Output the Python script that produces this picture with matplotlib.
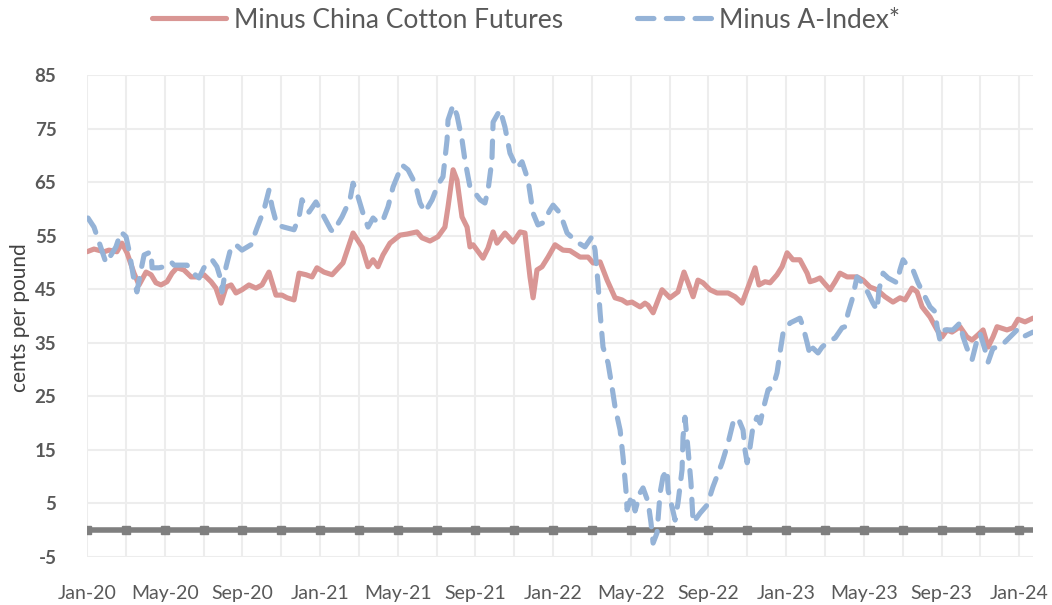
import matplotlib
matplotlib.use("Agg")
import matplotlib.pyplot as plt

# x values are months since Jan 2020
red_t = [0, 0.36, 0.88, 1.13, 1.54, 1.80, 2.06, 2.42, 2.68, 3.04, 3.30, 3.55, 3.81, 4.12, 4.38, 4.63,
         4.99, 5.36, 5.66, 6.02, 6.39, 6.64, 6.90, 7.16, 7.42, 7.67, 7.98, 8.34, 8.70, 9.01, 9.37, 9.73,
         10.04, 10.30, 10.66, 10.92, 11.28, 11.59, 11.84, 12.20, 12.62, 13.18, 13.70, 14.16, 14.47, 14.73,
         14.98, 15.24, 15.60, 16.12, 16.48, 16.99, 17.25, 17.66, 18.07, 18.43, 18.59, 18.85, 19.05, 19.31,
         19.57, 19.72, 19.88, 20.39, 20.65, 20.91, 21.11, 21.52, 21.94, 22.30, 22.55, 22.81, 22.97, 23.17,
         23.43, 23.74, 24.10, 24.51, 24.87, 25.39, 25.80, 26.06, 26.42, 26.78, 27.19, 27.55, 27.81, 28.06,
         28.48, 28.73, 28.89, 29.15, 29.61, 30.02, 30.43, 30.74, 30.95, 31.21, 31.46, 31.72, 32.08, 32.44,
         33.01, 33.37, 33.73, 34.04, 34.40, 34.60, 34.91, 35.17, 35.53, 35.79, 36.05, 36.35, 36.71, 37.08,
         37.23, 37.49, 37.74, 37.90, 38.26, 38.52, 38.77, 39.14, 39.65, 39.96, 40.32, 40.68, 41.09, 41.50,
         41.86, 42.12, 42.48, 42.74, 43.00, 43.41, 43.77, 44.03, 44.28, 44.54, 44.95, 45.31, 45.57, 45.88,
         46.14, 46.40, 46.65, 46.86, 47.37, 47.68, 47.94, 48.30, 48.71]
red_v = [52.0, 52.5, 52.0, 52.3, 52.0, 53.6, 51.8, 48.0, 45.8, 48.2, 47.7, 46.2, 45.8, 46.4, 48.0, 49.0,
         48.6, 47.3, 47.3, 47.7, 46.4, 45.2, 42.4, 45.4, 45.8, 44.3, 44.9, 45.8, 45.2, 45.8, 48.2, 43.9,
         43.9, 43.4, 43.0, 48.0, 47.7, 47.3, 49.0, 48.2, 47.7, 49.9, 55.5, 52.9, 49.2, 50.5,
         49.2, 51.4, 53.6, 55.1, 55.3, 55.7, 54.6, 54.0, 54.8, 56.6, 60.4, 67.3, 65.4, 58.5,
         56.6, 52.9, 53.3, 50.8, 52.7, 55.7, 53.6, 55.5, 53.8, 55.7, 55.5, 47.3, 43.4, 48.6,
         49.2, 51.0, 53.3, 52.3, 52.2, 51.0, 51.0, 49.9, 50.1, 46.7, 43.4, 43.0, 42.4, 42.6,
         41.7, 42.4, 42.0, 40.6, 44.9, 43.4, 44.5, 48.2, 46.2, 43.6, 46.7, 46.2, 44.9, 44.3,
         44.3, 43.6, 42.4, 45.4, 49.0, 45.8, 46.4, 46.2, 47.7, 49.2, 51.8, 50.5, 50.5, 48.0,
         46.4, 46.7, 47.1, 46.4, 44.9, 46.4, 48.0, 47.3, 47.3, 46.7, 45.4, 44.9, 43.6, 42.6,
         43.4, 43.0, 45.2, 44.5, 41.7, 39.8, 37.4, 36.1, 37.4, 37.0, 38.0, 36.1, 35.5, 36.5,
         37.4, 34.2, 36.1, 38.0, 37.4, 37.8, 39.4, 38.9, 39.6]

blue_t = [0.05, 0.36, 0.62, 0.98, 1.24, 1.49, 1.75, 2.01, 2.16, 2.42, 2.57, 2.78, 2.94, 3.30, 3.35, 3.71,
          3.96, 4.33, 4.48, 4.84, 5.15, 5.41, 5.77, 6.02, 6.44, 6.69, 6.90, 6.95, 7.16, 7.42, 7.67, 7.98,
          8.44, 8.75, 9.11, 9.37, 9.53, 9.78, 10.14, 10.66, 10.92, 11.07, 11.43, 11.79, 12.10, 12.56, 12.67,
          13.13, 13.54, 13.70, 13.96, 14.21, 14.47, 14.73, 14.98, 15.24, 15.50, 15.76, 16.22, 16.53, 16.89,
          17.15, 17.40, 17.77, 18.07, 18.33, 18.54, 18.59, 18.85, 19.05, 19.31, 19.46, 19.72, 19.98, 20.24,
          20.49, 20.65, 20.85, 20.91, 21.27, 21.52, 21.78, 22.14, 22.40, 22.71, 22.97, 23.22, 23.48, 23.84,
          24.00, 24.36, 24.72, 25.23, 25.64, 26.00, 26.16, 26.31, 26.42, 26.57, 26.83, 27.03, 27.19, 27.45,
          27.60, 27.75, 27.81, 28.06, 28.22, 28.48, 28.63, 28.89, 29.04, 29.15, 29.35, 29.51, 29.66, 29.87,
          29.92, 30.28, 30.43, 30.64, 30.69, 30.79, 30.95, 31.10, 31.21, 31.57, 31.93, 32.23, 32.70, 33.01,
          33.26, 33.52, 33.78, 33.88, 33.99, 34.14, 34.29, 34.50, 34.66, 34.81, 35.07, 35.32, 35.53, 35.68,
          35.84, 36.20, 36.71, 36.87, 37.08, 37.23, 37.38, 37.64, 37.85, 38.16, 38.52, 38.88, 39.03, 39.19,
          39.39, 39.65, 39.91, 40.22, 40.47, 40.68, 40.78, 40.99, 41.25, 41.71, 41.86, 42.02, 42.28, 42.53,
          42.79, 43.05, 43.41, 43.67, 43.77, 43.92, 44.18, 44.59, 44.95, 45.11, 45.31, 45.57, 45.83, 45.98,
          46.24, 46.40, 46.65, 47.01, 47.53, 47.89, 48.20, 48.71]
blue_v = [58.3, 56.6, 53.8, 49.9, 51.4, 52.9, 55.7, 54.8, 52.3, 46.7, 44.5, 48.6, 51.4, 52.0, 49.0, 49.0,
          49.2, 50.1, 49.5, 49.5, 49.5, 48.2, 47.1, 49.0, 50.5, 49.2, 46.7, 44.5, 49.2, 52.9, 53.3, 52.3,
          53.3, 56.4, 59.8, 63.5, 60.4, 57.0, 56.6, 56.1, 58.5, 61.7, 59.4, 61.3, 59.2, 56.1, 55.7,
          58.5, 61.7, 64.8, 62.2, 59.2, 56.6, 58.3, 57.4, 57.9, 60.4, 64.1, 68.2, 67.3, 64.8,
          61.1, 59.4, 61.7, 64.5, 66.0, 72.9, 76.6, 79.4, 77.5, 72.9, 69.1, 64.1, 63.0, 61.7,
          61.1, 63.5, 69.1, 76.2, 78.5, 75.3, 70.4, 67.6, 68.8, 65.4, 59.2, 57.0, 57.4, 59.8,
          60.7, 59.2, 55.5, 53.8, 52.9, 54.8, 52.3, 46.2, 40.6, 34.2, 31.2, 26.8, 23.0, 18.7,
          13.7, 7.5, 3.8, 6.6, 3.6, 7.0, 7.9, 5.3, 1.4, -2.4, -0.5, 7.0, 10.0, 11.3,
          7.5, 1.9, 5.1, 11.3, 17.4, 21.1, 15.0, 8.8, 1.4, 3.2, 4.7, 8.1, 12.6, 16.3,
          20.0, 21.0, 18.7, 15.0, 12.6, 15.5, 19.3, 21.1, 20.0, 22.5, 26.2, 26.8, 29.4, 33.1,
          36.8, 38.7, 39.6, 38.0, 35.0, 32.7, 34.0, 33.1, 34.2, 35.2, 35.9, 37.8, 38.0, 40.6,
          43.0, 47.3, 46.2, 44.3, 42.4, 41.1, 44.9, 48.0, 47.1, 46.2, 48.6, 50.5, 49.2, 48.6,
          46.2, 44.3, 41.7, 40.8, 38.0, 35.5, 37.4, 37.4, 38.7, 36.1, 34.0, 31.8, 35.5, 36.8,
          33.7, 31.4, 34.0, 34.2, 36.1, 37.4, 36.1, 37.0]

tick_pos = [0, 4, 8, 12, 16, 20, 24, 28, 32, 36, 40, 44, 48]
tick_labels = ["Jan-20", "May-20", "Sep-20", "Jan-21", "May-21", "Sep-21", "Jan-22",
               "May-22", "Sep-22", "Jan-23", "May-23", "Sep-23", "Jan-24"]
y_ticks = [-5, 5, 15, 25, 35, 45, 55, 65, 75, 85]

plt.rcParams['font.family'] = ['Lato', 'DejaVu Sans']
plt.rcParams['axes.unicode_minus'] = False
fig = plt.figure(figsize=(10.52, 6.05), dpi=100)
ax = fig.add_axes([87/1052, 1-557/605, (1033-87)/1052, (557-75)/605])

grid_c = '#EDEDED'
for m in range(0, 49, 2):
    ax.axvline(m, color=grid_c, lw=1.5, zorder=0)
for yv in y_ticks:
    ax.axhline(yv, color=grid_c, lw=1.5, zorder=0)

# zero axis line with tick marks
ax.plot([0, 48.71], [0, 0], color='#7F7F7F', lw=4.0, zorder=2, solid_capstyle='butt')
ax.plot(list(range(0, 49, 2)), [0]*25, ls='none', marker='s', ms=6, color='#7F7F7F', zorder=2)

red_c = '#D99694'
blue_c = '#95B3D7'
ax.plot(red_t, red_v, color=red_c, lw=3.7, solid_joinstyle='round', solid_capstyle='round',
        zorder=3, label='Minus China Cotton Futures')
ax.plot(blue_t, blue_v, color=blue_c, lw=3.7, dashes=(3.2, 2.4), dash_capstyle='round',
        dash_joinstyle='round', zorder=4, label='Minus A-Index*')

ax.set_xlim(0, 48.71)
ax.set_ylim(-5, 85)
ax.set_xticks(tick_pos)
ax.set_xticklabels(tick_labels)
ax.set_yticks(y_ticks)
ax.tick_params(axis='x', length=0, pad=20, labelsize=14, colors='#595959')
ax.tick_params(axis='y', length=0, pad=22, labelsize=13.5, colors='#595959')
for lab in ax.get_yticklabels():
    lab.set_fontweight('bold')
for s in ax.spines.values():
    s.set_visible(False)

fig.text(20/1052, 1-318/605, 'cents per pound', rotation=90, ha='center', va='center',
         fontsize=15, color='#404040')

leg = fig.legend(loc='center', bbox_to_anchor=(0.5, 1-20/605), ncol=2, frameon=False,
                 fontsize=19, handlelength=2.8, columnspacing=2.8, handletextpad=0.3,
                 labelcolor='#595959')

fig.savefig('out.png', dpi=100, facecolor='white')
